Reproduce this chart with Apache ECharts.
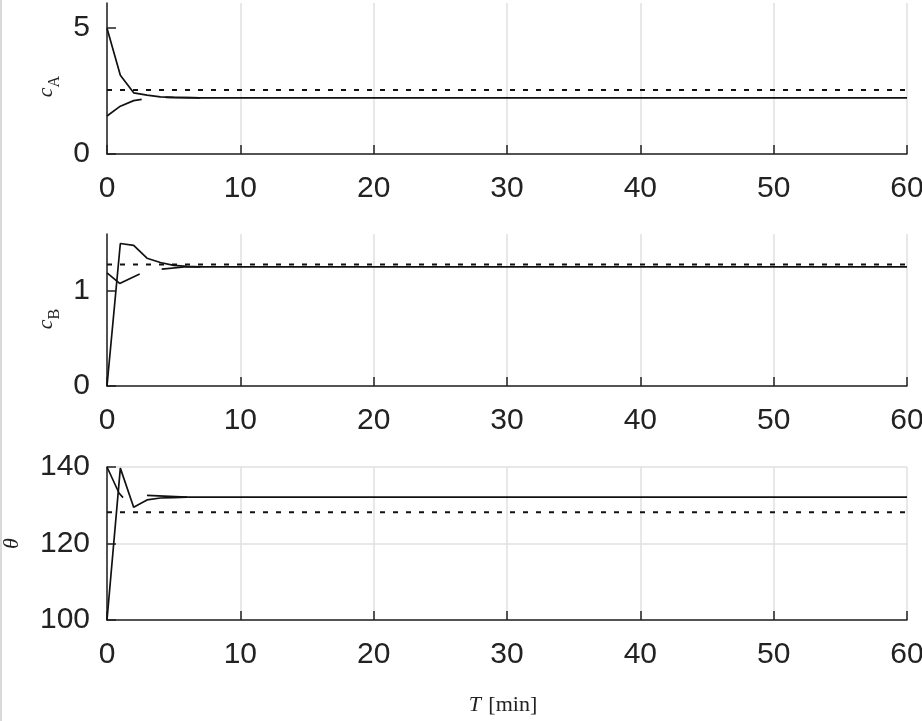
<!DOCTYPE html>
<html>
<head>
<meta charset="utf-8">
<script src="https://cdn.jsdelivr.net/npm/echarts@6/dist/echarts.min.js"></script>
<style>
html,body{margin:0;padding:0;background:#fff;}
#c{width:922px;height:721px;}
</style>
</head>
<body>
<div id="c"></div>
<script>
// ---- data ----
const xTickValues = [0, 10, 20, 30, 40, 50, 60];
const cATicks = [0, 5];
const cBTicks = [0, 1];
const thetaTicks = [100, 120, 140];

const cA_traj  = [[0,5.0],[1,3.13],[2,2.43],[3,2.34],[4,2.27],[5,2.25],[6,2.24],[7,2.23],[60,2.23]];
const cA_pred1 = [[0,1.51],[1,1.90],[2,2.12],[2.6,2.17]];
const cA_pred2 = [[4.4,2.25],[7,2.23]];
const cA_ref   = [[0,2.54],[60,2.54]];

const cB_traj  = [[0,0],[1,1.50],[2,1.48],[3,1.345],[4,1.30],[5,1.27],[6,1.26],[7,1.253],[60,1.253]];
const cB_pred1 = [[0,1.19],[0.95,1.08],[2.45,1.18]];
const cB_pred2 = [[4.1,1.23],[6,1.255],[7,1.253]];
const cB_ref   = [[0,1.28],[60,1.28]];

const th_traj  = [[0,100],[1,139.7],[2,129.5],[3,131.4],[4,131.9],[5,132.0],[6,132.1],[60,132.1]];
const th_pred1 = [[0,140],[0.9,133.2],[1.2,132.0]];
const th_pred2 = [[3,132.6],[6,132.1]];
const th_ref   = [[0,128.2],[60,128.2]];

// ---- styles ----
const AX = '#222222';
const GRID = '#e0e0e0';
const labelFont = { fontFamily: 'Liberation Sans, Arial, sans-serif', fontSize: 30, color: AX };
const serif = 'Liberation Serif, Times New Roman, serif';

function xAxis(i) {
  return {
    type: 'value', gridIndex: i, min: 0, max: 60, interval: 10,
    axisLine: { show: true, lineStyle: { color: AX, width: 1.5 } },
    axisTick: { show: true, inside: true, length: 9, lineStyle: { color: AX, width: 1.5 } },
    axisLabel: Object.assign({ margin: 20, customValues: xTickValues }, labelFont),
    splitLine: { show: true, lineStyle: { color: GRID, width: 1.5 } }
  };
}
function yAxis(i, min, max, interval, ticks, name, gap, pad) {
  return {
    type: 'value', gridIndex: i, min: min, max: max, interval: interval,
    name: name, nameLocation: 'middle', nameGap: gap, nameRotate: 90,
    nameTextStyle: {
      color: AX,
      padding: pad,
      rich: {
        i: { fontFamily: serif, fontStyle: 'italic', fontSize: 22, color: AX, padding: [0,0,5,0], verticalAlign: 'bottom' },
        s: { fontFamily: serif, fontSize: 16, color: AX, verticalAlign: 'bottom' }
      }
    },
    axisLine: { show: true, lineStyle: { color: AX, width: 1.5 } },
    axisTick: { show: true, inside: true, length: 9, customValues: ticks, lineStyle: { color: AX, width: 1.5 } },
    axisLabel: Object.assign({ margin: 17, customValues: ticks }, labelFont),
    splitLine: { show: true, showMaxLine: (ticks.indexOf(max) >= 0), lineStyle: { color: GRID, width: 1.5 } }
  };
}
function solid(data, i) {
  return { type: 'line', xAxisIndex: i, yAxisIndex: i, data: data, showSymbol: false, symbol: 'none',
    lineStyle: { color: '#111', width: 1.7 }, silent: true, z: 3 };
}
function dashed(data, i) {
  return { type: 'line', xAxisIndex: i, yAxisIndex: i, data: data, showSymbol: false, symbol: 'none',
    lineStyle: { color: '#111', width: 2, type: [5, 8] }, silent: true, z: 2 };
}

const chart = echarts.init(document.getElementById('c'), null, { renderer: 'canvas' });
chart.setOption({
  animation: false,
  backgroundColor: '#fff',
  grid: [
    { left: 107, width: 800, top: 3, height: 151, outerBoundsMode: 'none', containLabel: false },
    { left: 107, width: 800, top: 234, height: 152, outerBoundsMode: 'none', containLabel: false },
    { left: 107, width: 800, top: 467, height: 153, outerBoundsMode: 'none', containLabel: false }
  ],
  xAxis: [
    xAxis(0), xAxis(1),
    Object.assign(xAxis(2), {
      name: '{t|T} {m|[min]}', nameLocation: 'middle', nameGap: 74,
      nameTextStyle: { padding: [0,8,0,0], rich: {
        t: { fontFamily: serif, fontStyle: 'italic', fontSize: 22, color: AX, padding: [0,4,0,0] },
        m: { fontFamily: serif, fontSize: 22, color: AX }
      } }
    })
  ],
  yAxis: [
    yAxis(0, 0, 6, 5, cATicks, '{i|c}{s|A}', 42, [0,16,0,0]),
    yAxis(1, 0, 1.6, 1, cBTicks, '{i|c}{s|B}', 42, [0,18,0,0]),
    yAxis(2, 100, 140, 20, thetaTicks, '{i|θ}', 79, 0)
  ],
  graphic: [
    { type: 'line', shape: { x1: 1, y1: 0, x2: 1, y2: 721 }, style: { stroke: '#d9d9d9', lineWidth: 2 }, silent: true }
  ],
  series: [
    dashed(cA_ref, 0), solid(cA_traj, 0), solid(cA_pred1, 0), solid(cA_pred2, 0),
    dashed(cB_ref, 1), solid(cB_traj, 1), solid(cB_pred1, 1), solid(cB_pred2, 1),
    dashed(th_ref, 2), solid(th_traj, 2), solid(th_pred1, 2), solid(th_pred2, 2)
  ]
});
</script>
</body>
</html>
